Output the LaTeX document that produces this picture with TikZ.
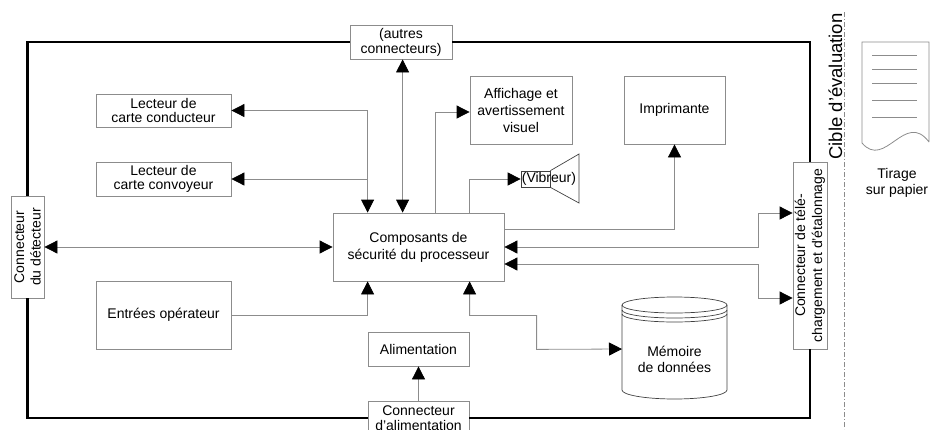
\documentclass[tikz,border=0pt]{standalone}
\usepackage{fontspec}
\setmainfont{Liberation Sans}
\usetikzlibrary{arrows.meta,calc}
\definecolor{boxgray}{gray}{0.55}
\definecolor{linegray}{gray}{0.55}
\definecolor{darkline}{gray}{0.25}
\begin{document}
\begin{tikzpicture}[x=1pt,y=-1pt,
  >={Triangle[length=13pt,width=13pt,color=black]},
  box/.style={draw=boxgray, line width=0.8pt, inner sep=0pt, align=center, font=\fontsize{14}{17}\selectfont},
  conn/.style={draw=linegray, line width=0.8pt},
  frame/.style={draw=black, line width=2.8pt, line join=miter},
  txt/.style={inner sep=0pt, align=center, font=\fontsize{14}{16}\selectfont},
  dark/.style={draw=darkline, line width=0.7pt}]
\useasboundingbox (0,0) rectangle (932,429);

% boxes
\node[box, minimum width=102pt, minimum height=34pt, font=\fontsize{14}{15}\selectfont] (aut) at (401,42) {(autres\\connecteurs)};
\node[box, minimum width=135pt, minimum height=33pt, font=\fontsize{14}{14}\selectfont] (cond) at (163.5,110.5) {Lecteur de\\carte conducteur};
\node[box, minimum width=135pt, minimum height=34pt, font=\fontsize{14}{14}\selectfont] (conv) at (163.5,179) {Lecteur de\\carte convoyeur};
\node[box, minimum width=102pt, minimum height=68pt] (aff) at (521,110) {Affichage et\\avertissement\\visuel};
\node[box, minimum width=101pt, minimum height=68pt] (imp) at (674.5,110) {Imprimante};
\node[box, minimum width=171pt, minimum height=68pt] (proc) at (418.5,247) {Composants de\\sécurité du processeur};
\node[box, rotate=90, minimum width=102pt, minimum height=33pt, font=\fontsize{14}{16.5}\selectfont] (det) at (27.5,247) {Connecteur\\du détecteur};
\node[box, minimum width=135pt, minimum height=68pt] (ent) at (163.5,315) {Entrées opérateur};
\node[box, minimum width=101pt, minimum height=34pt] (alim) at (418.5,349) {Alimentation};
\node[box, minimum width=101pt, minimum height=34pt, font=\fontsize{14}{15}\selectfont] (calim) at (418.5,418) {Connecteur\\d'alimentation};
\node[box, rotate=90, minimum width=187pt, minimum height=34pt] (tel) at (810,255.5) {Connecteur de télé-\\chargement et d'étalonnage};

% vibreur
\node[dark, minimum width=29pt, minimum height=16pt, inner sep=0pt] (vib) at (535.5,179) {};
\draw[dark] (vib.north east) -- (579,154) -- (579,203) -- (vib.south east);
\node[txt, anchor=west] (vibt) at ([xshift=1pt]vib.west) {(Vibreur)};

% memoire
\draw[dark] (622,305) -- (622,390) arc[start angle=180, end angle=360, x radius=52.5pt, y radius=9pt] -- (727,305);
\draw[dark] (674.5,305) ellipse [x radius=52.5pt, y radius=8pt];
\draw[dark] (622,310) arc[start angle=180, end angle=360, x radius=52.5pt, y radius=8pt];
\draw[dark] (622,314) arc[start angle=180, end angle=360, x radius=52.5pt, y radius=8pt];
\node[txt] (memt) at (674.5,359) {Mémoire\\de données};
\coordinate (memw) at (622,349);

% cible / papier
\node[rotate=90, anchor=base, inner sep=0pt, font=\fontsize{18.5}{20}\selectfont] (cible) at (842,86.5) {Cible d'évaluation};
\draw[boxgray, line width=0.6pt, dash pattern=on 5pt off 2pt on 1pt off 2pt] (844.5,12) -- (844.5,429);
\draw[boxgray, line width=0.8pt] (929,142) -- (929,42) -- (862,42) -- (862,143) .. controls (885,170) and (905,110) .. (929,142);
\foreach \yy in {55,69,83,100,117} \draw[boxgray, line width=0.7pt] (872,\yy) -- (917,\yy);
\node[txt] (tir) at (897,182.5) {Tirage\\sur papier};

% frame
\draw[frame] (aut.west) -| (det.east);
\draw[frame] (det.west) |- (calim.west);
\draw[frame] (calim.east) -| (tel.west);
\draw[frame] (tel.east) |- (aut.east);

% processor attachment points
\coordinate (pt1) at ([xshift=35pt]proc.north west);
\coordinate (pt2) at ([xshift=70pt]proc.north west);
\coordinate (pt3) at ([xshift=103pt]proc.north west);
\coordinate (pt4) at ([xshift=137pt]proc.north west);
\coordinate (pb1) at ([xshift=35pt]proc.south west);
\coordinate (pb2) at ([xshift=137pt]proc.south west);
\coordinate (pr1) at ([yshift=-17pt]proc.north east);
\coordinate (pr2) at (proc.east);
\coordinate (pr3) at ([yshift=-17pt]proc.east);
\coordinate (ta) at ([yshift=42.5pt]tel.north);
\coordinate (tb) at ([yshift=-42.5pt]tel.north);

% connectors
\draw[conn,<->] (cond.east) -| (pt1);
\draw[conn,->] (pt1 |- conv.east) -- (conv.east);
\draw[conn,<->] (aut.south -| pt2) -- (pt2);
\draw[conn,->] (pt3) |- ([yshift=-2pt]aff.west);
\draw[conn,->] (pt4) |- (vib.west);
\draw[conn,->] (pr1) -| (imp.south);
\draw[conn,<->] (pr2) -| ([xshift=-34pt]ta) -- (ta);
\draw[conn,<->] (pr3) -| ([xshift=-34pt]tb) -- (tb);
\draw[conn,<->] (det.south) -- (proc.west);
\draw[conn,->] (ent.east) -| (pb1);
\draw[conn,<->] (pb2) -- ++(0,34) -| ++(67,34) -- (memw);
\draw[conn,->] (calim.north) -- (alim.south);
\end{tikzpicture}
\end{document}
